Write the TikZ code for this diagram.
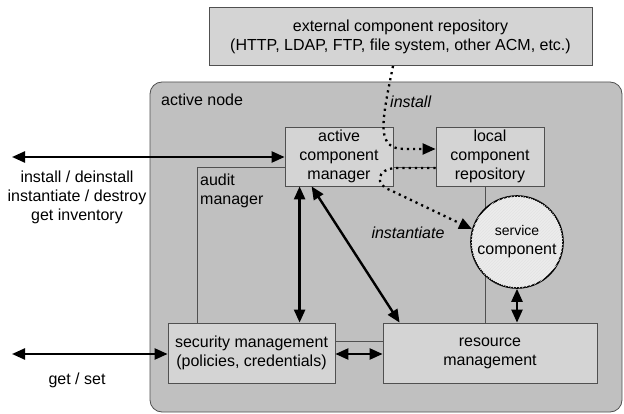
\documentclass[tikz,border=0pt]{standalone}
\usepackage{fontspec}
\setmainfont{Liberation Sans}
\usetikzlibrary{arrows.meta,calc,patterns}
\definecolor{nodebg}{RGB}{192,192,192}
\definecolor{boxfill}{RGB}{212,212,212}
\definecolor{edgec}{RGB}{80,80,80}
\definecolor{svcfill}{RGB}{236,236,236}
\begin{document}
\begin{tikzpicture}[x=1pt,y=-1pt,
  every node/.style={font=\fontsize{16}{19}\selectfont, inner sep=0pt},
  box/.style={draw=edgec, line width=0.8pt, fill=boxfill, align=center},
  thinline/.style={draw=edgec, line width=0.8pt},
  dbl/.style={line width=2.4pt, {Triangle[length=13pt,width=11pt]}-{Triangle[length=13pt,width=11pt]}},
  dotarrow/.style={line width=2.3pt, dash pattern=on 2.2pt off 4pt, -{Triangle[length=13pt,width=11pt]}},
  lbl/.style={align=center},
  itlbl/.style={font=\fontsize{16}{19}\selectfont\itshape},
]
\useasboundingbox (0,0) rectangle (624,414);
\fill[white] (0,0) rectangle (624,414);

% external repository
\node[box, minimum width=383pt, minimum height=58pt] (ext) at (400.5,36.5)
  {external component repository\\(HTTP, LDAP, FTP, file system, other ACM, etc.)};

% active node container
\draw[thinline, fill=nodebg, rounded corners=12pt] (150,82) rectangle (622,412);
\node[anchor=west] (an) at (161,100) {active node};

% audit manager
\draw[thinline, fill=nodebg] (197,167) rectangle (485,341);
\node[anchor=north west, align=left] (audit) at (200,174) {audit\\manager};

% boxes
\node[box, minimum width=108pt, minimum height=59pt] (acm) at (339,156.5)
  {active\\component\\manager};
\node[box, minimum width=108pt, minimum height=59pt] (lcr) at (490,156.5)
  {local\\component\\repository};
\node[box, minimum width=167pt, minimum height=60pt] (sec) at (251.5,353)
  {security management\\(policies, credentials)};
\node[box, minimum width=214pt, minimum height=60pt] (res) at (490,353)
  {resource\\management};
\node[circle, draw=black, line width=1.6pt, fill=svcfill,
      postaction={pattern=north east lines, pattern color=gray!22},
      minimum size=92pt, align=center] (svc) at (517,242) {};
\node[align=center] (svct) at (517,242)
  {{\fontsize{14}{17}\selectfont service}\\component};

% solid arrows
\coordinate (l1) at (12,157);
\coordinate (l2) at (12,354);
\draw[dbl] (l1) -- (l1 -| acm.west);
\draw[dbl] (l2) -- (l2 -| sec.west);
\coordinate (va) at ($(acm.south west)+(15,0)$);
\draw[dbl] (va) -- (va |- sec.north);
\coordinate (da) at ($(acm.south west)+(27,0)$);
\coordinate (db) at ($(res.north west)+(17,0)$);
\draw[dbl] (da) -- (db);
\draw[dbl] (sec.east |- l2) -- (res.west |- l2);
\draw[dbl] (svc.south) -- (svc.south |- res.north);

% dotted arrows
\coordinate (src) at (393,66);
\draw[dotarrow] (src) .. controls (381,125) and (376,149) .. (405,149) -- ([yshift=7.5pt]lcr.west);
\coordinate (bend) at (390,190);
\draw[dotarrow] ([yshift=-11.5pt]lcr.west) -- (396,168) .. controls (376,169) and (375,185) .. (bend) -- (svc.164);

% labels
\node[itlbl, anchor=west] (inst) at (390,102) {install};
\node[itlbl] (instt) at (408,233) {instantiate};
\node[lbl] (ops) at (77,197) {install / deinstall\\instantiate / destroy\\get inventory};
\node[lbl] (gs) at (77,380) {get / set};
\end{tikzpicture}
\end{document}
